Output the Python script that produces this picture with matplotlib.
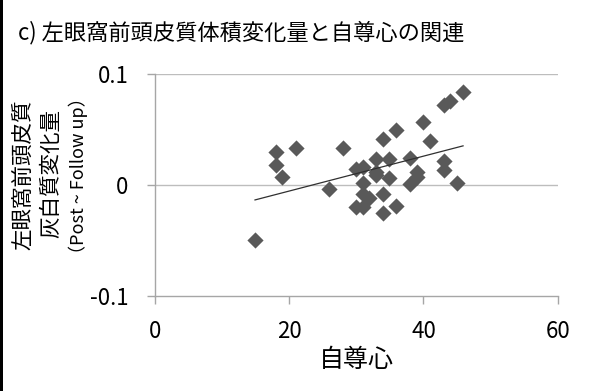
import numpy as np
import matplotlib
matplotlib.use("Agg")
import matplotlib.pyplot as plt
from matplotlib.patches import Rectangle

plt.rcParams['font.family'] = ['Noto Sans CJK JP', 'DejaVu Sans']

self_esteem = [18.0, 18.0, 18.9, 21.0, 25.9, 28.0, 29.9, 31.0, 29.9, 31.0,
               31.0, 31.0, 31.9, 33.0, 33.0, 33.0, 34.0, 34.0, 34.0, 34.9,
               34.9, 35.9, 35.9, 38.0, 38.0, 39.0, 39.0, 39.9, 40.9, 43.0,
               43.0, 43.0, 44.0, 45.0, 45.9, 14.9]
volume_change = [0.0295, 0.0184, 0.0072, 0.033, -0.0036, 0.033, 0.0144, 0.0163, -0.0202, -0.0196,
                 0.0021, -0.0081, -0.012, 0.0232, 0.012, 0.009, 0.0415, -0.0078, -0.0256, 0.0232,
                 0.0063, 0.050, -0.0187, 0.024, 0.0009, 0.0117, 0.0075, 0.0566, 0.0397, 0.0214,
                 0.0133, 0.0723, 0.0759, 0.0015, 0.0843, -0.050]

x_ticks = [0, 20, 40, 60]
y_ticks = [-0.1, 0, 0.1]
y_tick_labels = ['-0.1', '0', '0.1']

title = 'c) 左眼窩前頭皮質体積変化量と自尊心の関連'
x_label = '自尊心'
y_label_lines = ['左眼窩前頭皮質', '灰白質変化量', '（Post ~ Follow up）']

fig = plt.figure(figsize=(6, 3.91), dpi=100)
ax = fig.add_axes([155/600, 1-295.7/391, (557.7-155)/600, (295.7-74.3)/391])

xs = np.array(self_esteem)
ys = np.array(volume_change)
ax.scatter(xs, ys, marker='D', s=68, color='#595959', zorder=3, linewidths=0)
coef = np.polyfit(xs, ys, 1)
xl = np.array([xs.min(), xs.max()])
ax.plot(xl, np.polyval(coef, xl), color='#303030', lw=0.9, zorder=4)

ax.set_xlim(0, 60)
ax.set_ylim(-0.1, 0.1)
ax.set_xticks(x_ticks)
ax.set_yticks(y_ticks)
ax.set_yticklabels(y_tick_labels)
for s in ['top', 'right']:
    ax.spines[s].set_visible(False)
for s in ['left', 'bottom']:
    ax.spines[s].set_color('#a6a6a6')
    ax.spines[s].set_linewidth(1.0)
ax.tick_params(axis='both', colors='#a6a6a6', length=6, width=1.0, labelsize=16,
               labelcolor='black')
ax.tick_params(axis='x', pad=11.5)
ax.tick_params(axis='y', pad=13)
for yv in [0, 0.1]:
    ax.axhline(yv, color='#bdbdbd', lw=1.0, zorder=1)

ax.set_xlabel(x_label, fontsize=18, labelpad=3)

fig.text(23/600, 1-175/391, y_label_lines[0], rotation=90, fontsize=15.5,
         ha='center', va='center')
fig.text(51/600, 1-174/391, y_label_lines[1], rotation=90, fontsize=15.5,
         ha='center', va='center')
fig.text(78/600, 1-176/391, y_label_lines[2], rotation=90, fontsize=13,
         ha='center', va='center')

fig.text(18/600, 1-33/391, title, fontsize=16, ha='left', va='center')

fig.patches.append(Rectangle((0, 0), 3/600, 1, transform=fig.transFigure,
                             facecolor='black', edgecolor='none'))

fig.savefig('out.png', dpi=100)
